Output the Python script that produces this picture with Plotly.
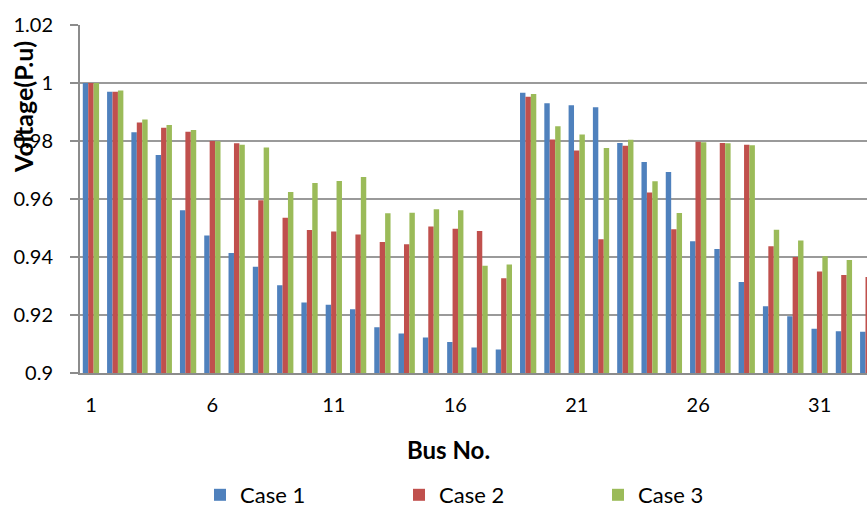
import plotly.graph_objects as go

# Bus voltage profile (p.u.) for the 33-bus feeder under three operating cases
buses = list(range(1, 34))

case1 = [1.0000, 0.9970, 0.9830, 0.9752, 0.9561, 0.9474, 0.9414, 0.9366, 0.9303,
         0.9243, 0.9235, 0.9220, 0.9158, 0.9136, 0.9122, 0.9107, 0.9088, 0.9081,
         0.9966, 0.9930, 0.9923, 0.9916, 0.9793, 0.9728, 0.9693, 0.9454, 0.9428,
         0.9314, 0.9230, 0.9196, 0.9153, 0.9144, 0.9142]
case2 = [1.0000, 0.9970, 0.9864, 0.9846, 0.9832, 0.9800, 0.9792, 0.9596, 0.9535,
         0.9493, 0.9488, 0.9478, 0.9452, 0.9444, 0.9505, 0.9497, 0.9490, 0.9327,
         0.9953, 0.9805, 0.9767, 0.9461, 0.9784, 0.9622, 0.9496, 0.9797, 0.9793,
         0.9787, 0.9437, 0.9400, 0.9350, 0.9338, 0.9331]
case3 = [1.0000, 0.9974, 0.9874, 0.9855, 0.9838, 0.9799, 0.9787, 0.9778, 0.9624,
         0.9655, 0.9662, 0.9676, 0.9551, 0.9553, 0.9565, 0.9561, 0.9370, 0.9374,
         0.9962, 0.9851, 0.9822, 0.9776, 0.9804, 0.9661, 0.9552, 0.9796, 0.9792,
         0.9785, 0.9494, 0.9457, 0.9403, 0.9390, 0.9385]

series_names = ["Case 1", "Case 2", "Case 3"]
series_colors = ["#4F81BD", "#C0504D", "#9BBB59"]

x_tick_vals = [1, 6, 11, 16, 21, 26, 31]
y_tick_vals = [0.9, 0.92, 0.94, 0.96, 0.98, 1.0, 1.02]
y_tick_text = ["0.9", "0.92", "0.94", "0.96", "0.98", "1", "1.02"]

FONT = "Lato"
W, H = 867, 510
L, T, B = 80, 25, 137
plot_w = W - L
plot_h = H - T - B


def px_x(px):
    return (px - L) / plot_w


def px_y(py):
    return (H - B - py) / plot_h


fig = go.Figure()
for name, vals, col in zip(series_names, [case1, case2, case3], series_colors):
    fig.add_trace(go.Bar(
        x=buses, y=vals, name=name,
        marker=dict(color=col, line=dict(width=0)),
    ))

fig.update_layout(
    width=W, height=H,
    margin=dict(l=L, r=0, t=T, b=B, autoexpand=False),
    paper_bgcolor="white",
    plot_bgcolor="white",
    barmode="group",
    bargap=0.33,
    bargroupgap=0,
    font=dict(family=FONT, color="#000000"),
    xaxis=dict(
        range=[0.55, 32.95],
        tickmode="array",
        tickvals=x_tick_vals,
        ticktext=[str(v) for v in x_tick_vals],
        tickfont=dict(family=FONT, size=20, color="#000000"),
        ticks="",
        ticklabelstandoff=13,
        showgrid=False,
        showline=True,
        linecolor="#8c8c8c",
        linewidth=2,
        zeroline=False,
    ),
    yaxis=dict(
        range=[0.9, 1.02],
        tickmode="array",
        tickvals=y_tick_vals,
        ticktext=y_tick_text,
        tickfont=dict(family=FONT, size=20, color="#000000"),
        ticks="outside",
        ticklen=8,
        tickwidth=2,
        tickcolor="#8c8c8c",
        ticklabelstandoff=13,
        showgrid=True,
        gridcolor="#9a9a9a",
        gridwidth=2,
        showline=True,
        linecolor="#8c8c8c",
        linewidth=2,
        zeroline=False,
    ),
    legend=dict(
        orientation="h",
        x=px_x(200), xanchor="left",
        yref="container",
        y=(H - 495) / H, yanchor="middle",
        font=dict(family=FONT, size=22, color="#000000"),
        entrywidth=154,
        entrywidthmode="pixels",
        bgcolor="rgba(0,0,0,0)",
    ),
    annotations=[
        dict(
            text="<b>Bus No.</b>",
            xref="paper", yref="paper",
            x=px_x(448), y=px_y(449),
            xanchor="center", yanchor="middle",
            showarrow=False,
            font=dict(family=FONT, size=24, color="#000000"),
        ),
        dict(
            text="<b>Voltage(P.u)</b>",
            xref="paper", yref="paper",
            x=px_x(23), y=px_y(107),
            xanchor="center", yanchor="middle",
            textangle=-90,
            showarrow=False,
            font=dict(family=FONT, size=25, color="#000000"),
        ),
    ],
)

fig.write_html("out.html")
